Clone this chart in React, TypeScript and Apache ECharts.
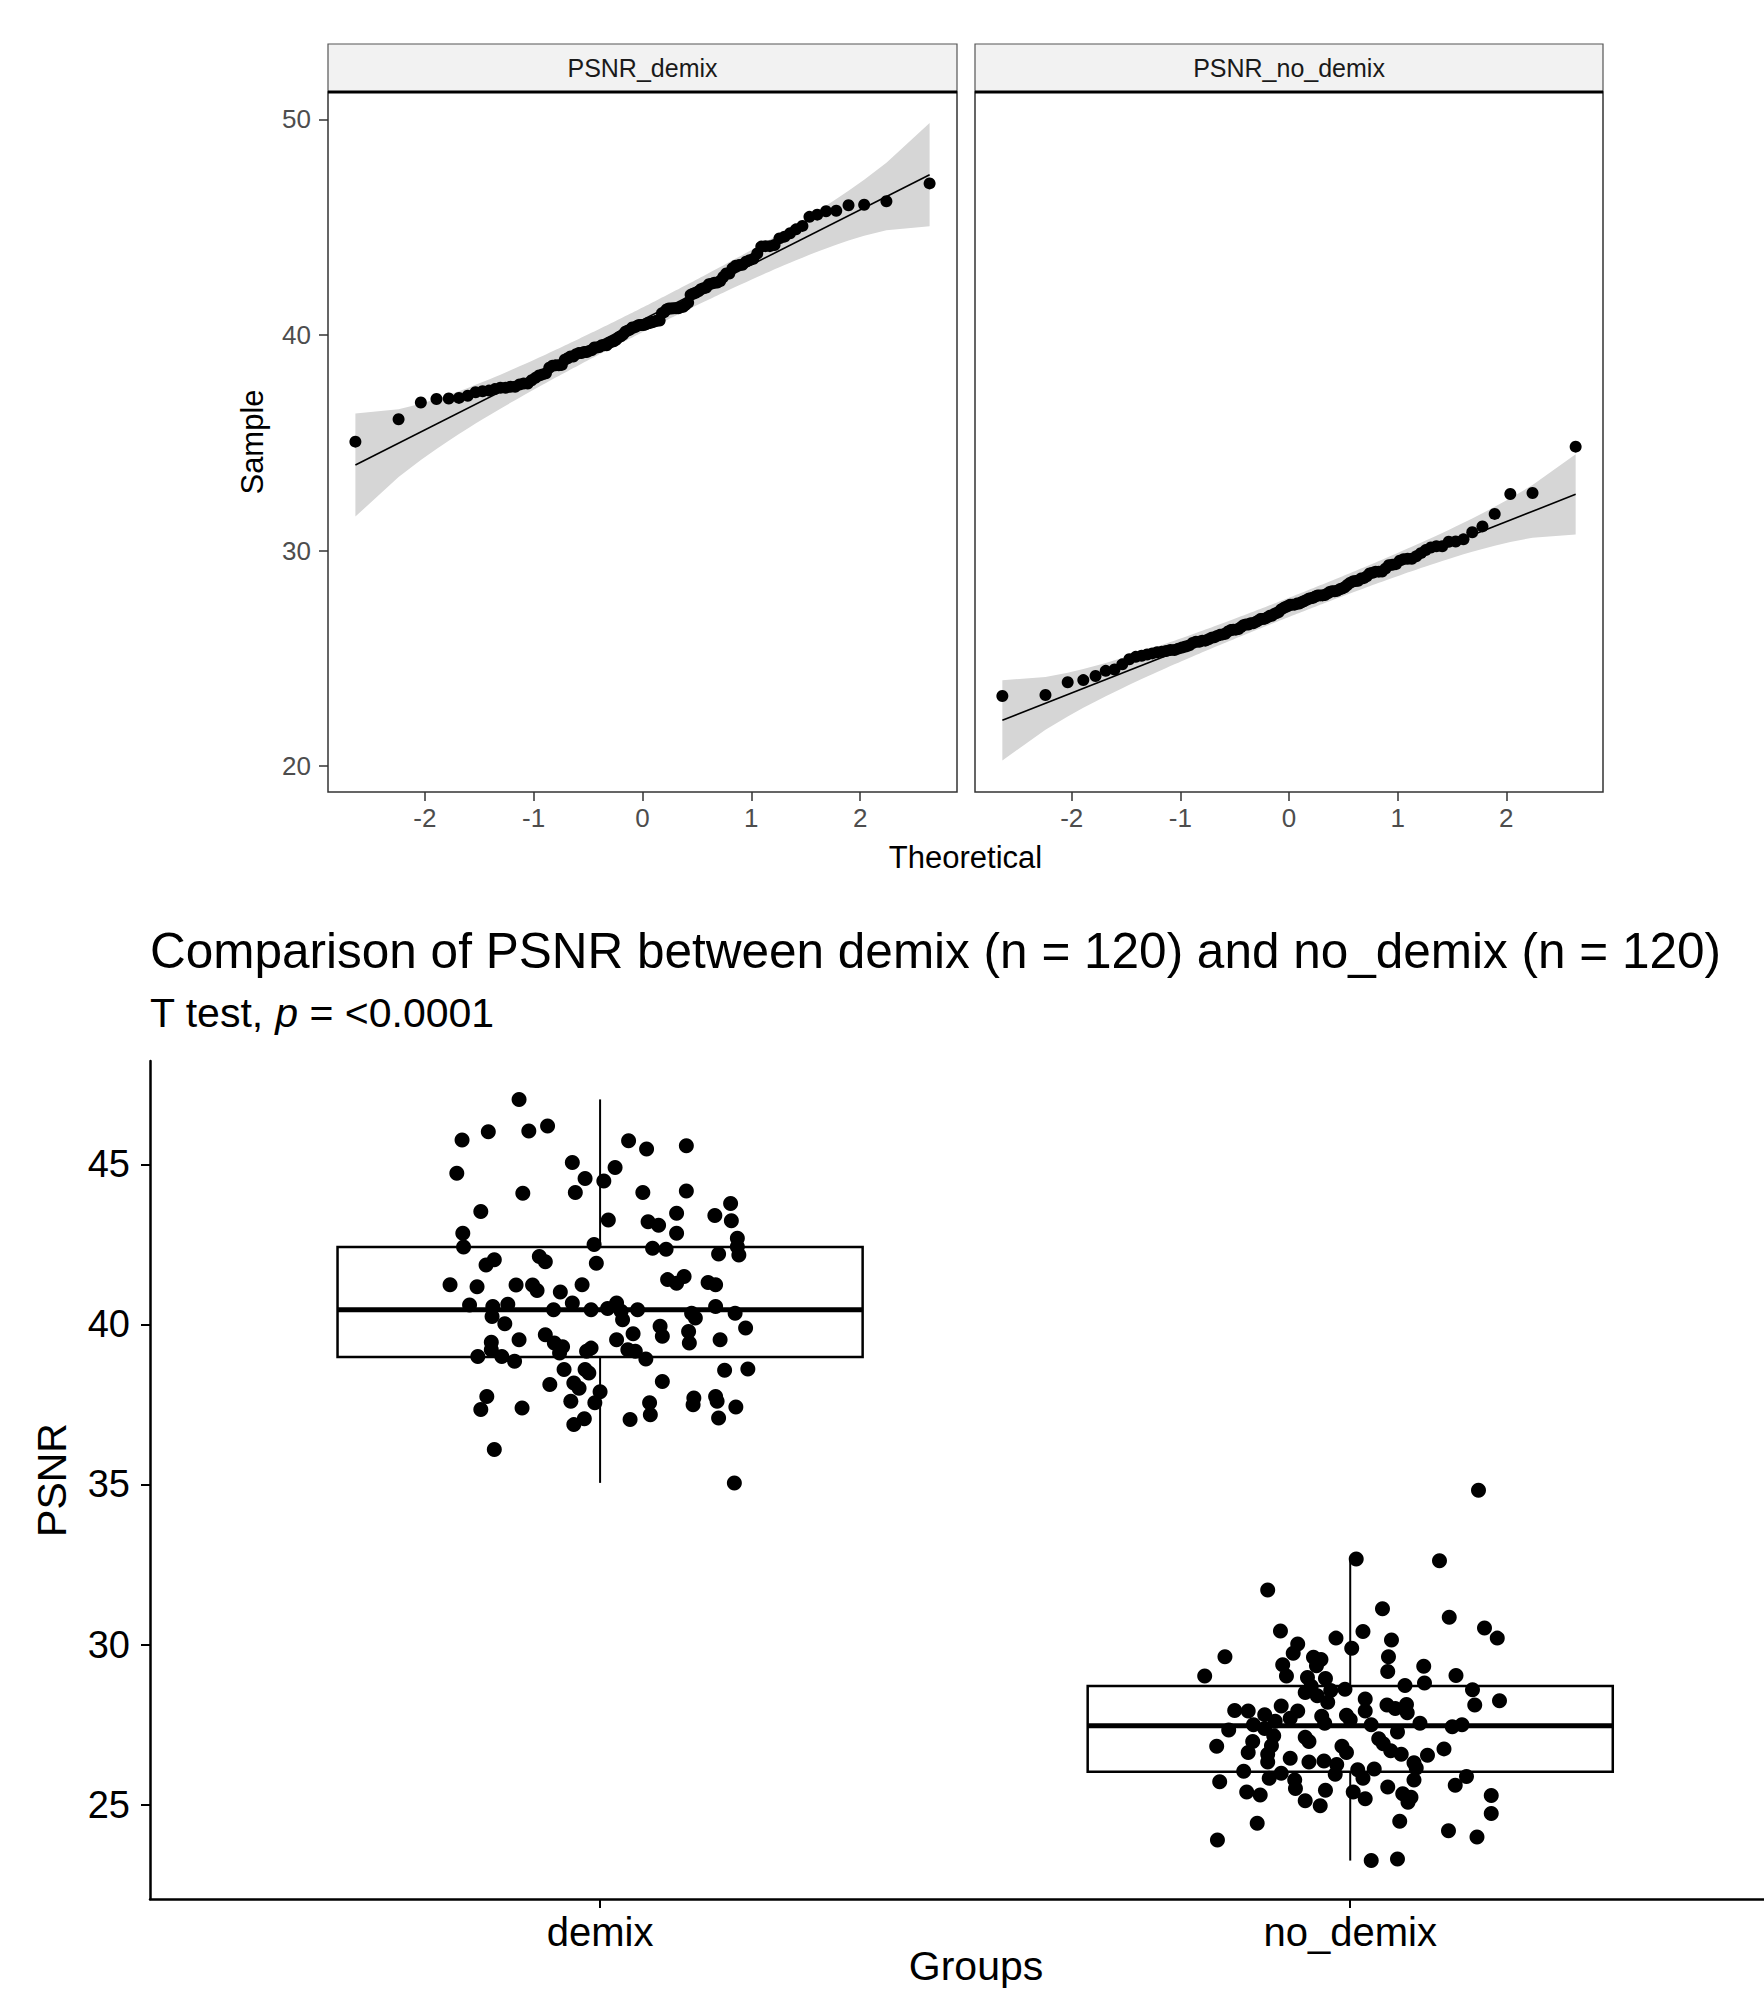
import React, { useEffect, useRef } from 'react';
import * as echarts from 'echarts';

// ---------------- data ----------------
const GROUPS = ['demix', 'no_demix'];
const PANEL_LABELS = ['PSNR_demix', 'PSNR_no_demix'];
const QQ_X_TICKS = [-2, -1, 0, 1, 2];
const QQ_Y_TICKS = [20, 30, 40, 50];
const BOX_Y_TICKS = [25, 30, 35, 40, 45];
const BOX_X_TICKS = [1, 2];

const DEMIX_PSNR = [47.03, 45.76, 46.02, 46.04, 46.2, 45.74, 45.48, 45.58, 44.72, 45.06, 44.56, 44.48, 44.12, 44.1, 44.12, 44.17, 43.53, 43.26, 43.21, 43.1, 43.47, 43.4, 43.78, 43.24, 42.85, 42.42, 42.85, 42.69, 42.5, 42.38, 42.35, 42.43, 42.2, 42.17, 42.02, 41.86, 42.12, 41.96, 41.91, 41.5, 41.29, 41.24, 41.18, 41.23, 41.23, 41.06, 41.24, 41.01, 41.31, 41.24, 40.61, 40.56, 40.63, 40.46, 40.67, 40.46, 40.67, 40.41, 40.46, 40.35, 40.56, 40.35, 40.25, 40.02, 40.15, 40.2, 39.89, 39.94, 39.71, 39.63, 39.78, 39.68, 39.52, 39.44, 39.52, 39.42, 39.52, 39.42, 39.21, 39.26, 39.16, 39.0, 39.0, 38.85, 39.11, 39.21, 39.16, 38.92, 38.59, 38.59, 38.48, 38.57, 38.61, 38.12, 38.17, 38.01, 38.22, 37.75, 37.34, 37.39, 37.6, 37.55, 37.55, 37.18, 37.7, 37.49, 37.75, 37.6, 37.42, 37.08, 36.87, 37.05, 37.03, 36.09, 35.05, 40.5, 39.3, 41.4, 37.9, 44.9];
const DEMIX_JITTER = [-0.108, -0.184, -0.149, -0.095, -0.07, 0.038, 0.062, 0.115, -0.191, -0.037, -0.02, 0.005, -0.033, -0.103, 0.057, 0.115, -0.159, 0.011, 0.064, 0.078, 0.102, 0.153, 0.174, 0.175, -0.183, -0.182, 0.102, 0.183, -0.008, 0.07, 0.088, 0.183, 0.158, 0.185, -0.141, -0.152, -0.081, -0.073, -0.005, 0.112, 0.102, -0.2, -0.164, -0.112, -0.09, -0.084, -0.024, -0.053, 0.144, 0.154, -0.174, -0.143, -0.123, -0.062, -0.037, -0.012, 0.022, 0.028, 0.05, 0.122, 0.154, 0.18, -0.144, -0.127, 0.03, 0.127, 0.194, 0.08, 0.044, 0.083, 0.118, -0.073, -0.108, -0.145, 0.022, 0.119, 0.16, -0.061, -0.145, -0.012, -0.018, -0.163, -0.131, -0.114, -0.054, 0.037, 0.047, 0.061, -0.048, -0.02, -0.015, 0.166, 0.197, -0.067, -0.035, -0.028, 0.083, -0.151, -0.159, -0.104, -0.039, -0.007, 0.066, 0.067, 0.125, 0.124, 0.154, 0.156, 0.181, 0.158, -0.035, -0.021, 0.04, -0.141, 0.179, 0.01, -0.05, 0.09, 0.0, 0.02];

const NO_DEMIX_PSNR = [34.82, 32.67, 32.62, 31.7, 31.12, 30.85, 30.52, 30.2, 30.42, 30.02, 30.2, 30.41, 30.14, 29.88, 29.62, 29.73, 29.6, 29.53, 29.62, 29.37, 29.34, 29.32, 29.16, 29.02, 29.02, 28.97, 28.94, 29.03, 28.72, 28.8, 28.7, 28.56, 28.6, 28.4, 28.59, 28.11, 28.24, 28.11, 28.13, 27.94, 27.92, 27.81, 28.08, 27.92, 27.76, 27.79, 27.92, 27.87, 27.54, 27.33, 27.49, 27.38, 27.15, 27.54, 27.49, 27.27, 27.43, 27.49, 26.82, 26.97, 26.84, 26.97, 26.82, 27.06, 26.9, 26.74, 26.63, 26.57, 26.63, 26.68, 26.57, 26.54, 26.33, 26.33, 26.36, 26.25, 26.31, 26.04, 25.98, 25.82, 26.09, 26.11, 26.14, 25.82, 25.71, 25.77, 25.77, 25.88, 25.6, 25.39, 25.5, 25.45, 25.39, 25.34, 25.23, 25.28, 25.07, 24.96, 24.72, 24.42, 24.48, 24.18, 23.99, 23.89, 23.3, 23.25, 25.12, 25.18, 25.3, 25.55, 25.95, 26.45, 27.1, 27.6, 27.65, 27.7, 28.0, 28.2, 28.3, 28.5];
const NO_DEMIX_JITTER = [0.171, 0.008, 0.119, -0.11, 0.043, 0.132, 0.179, 0.196, -0.093, -0.07, -0.019, 0.017, 0.055, 0.002, -0.167, -0.076, -0.049, -0.039, 0.051, -0.09, -0.045, 0.098, 0.05, -0.194, -0.085, -0.057, -0.033, 0.141, 0.073, 0.099, -0.052, -0.026, -0.007, -0.044, 0.163, 0.166, 0.199, 0.049, 0.075, -0.154, -0.136, -0.114, -0.092, -0.07, -0.038, -0.005, 0.02, 0.076, 0.093, -0.162, -0.129, -0.114, -0.102, -0.034, 0.028, 0.063, 0.136, 0.149, -0.178, -0.13, -0.105, -0.055, -0.011, 0.038, 0.044, 0.125, -0.136, -0.11, -0.005, 0.054, 0.068, 0.103, -0.11, -0.055, -0.035, -0.018, 0.085, -0.142, -0.092, -0.108, 0.01, 0.032, 0.088, 0.017, -0.174, -0.074, 0.085, 0.155, 0.14, -0.138, -0.073, -0.033, 0.004, 0.07, 0.081, 0.188, 0.077, -0.04, 0.188, -0.124, 0.066, 0.131, 0.169, -0.177, 0.063, 0.028, -0.06, 0.02, -0.12, 0.05, -0.02, -0.08, -0.06, -0.1, 0.0, -0.08, 0.06, -0.03, 0.02, -0.06];

const TITLE = 'Comparison of PSNR between demix (n = 120) and no_demix (n = 120)';
const SUBTITLE = 'T test, {i|p} = <0.0001';

// ---------------- statistics (the chart's own stat transforms) ----------------
function qnorm(p: number): number {
  const a = [-3.969683028665376e1, 2.209460984245205e2, -2.759285104469687e2, 1.38357751867269e2, -3.066479806614716e1, 2.506628277459239];
  const b = [-5.447609879822406e1, 1.615858368580409e2, -1.556989798598866e2, 6.680131188771972e1, -1.328068155288572e1];
  const c = [-7.784894002430293e-3, -3.223964580411365e-1, -2.400758277161838, -2.549732539343734, 4.374664141464968, 2.938163982698783];
  const d = [7.784695709041462e-3, 3.224671290700398e-1, 2.445134137142996, 3.754408661907416];
  const pl = 0.02425;
  if (p < pl) {
    const q = Math.sqrt(-2 * Math.log(p));
    return (((((c[0] * q + c[1]) * q + c[2]) * q + c[3]) * q + c[4]) * q + c[5]) / ((((d[0] * q + d[1]) * q + d[2]) * q + d[3]) * q + 1);
  }
  if (p <= 1 - pl) {
    const q = p - 0.5;
    const r = q * q;
    return ((((((a[0] * r + a[1]) * r + a[2]) * r + a[3]) * r + a[4]) * r + a[5]) * q) / (((((b[0] * r + b[1]) * r + b[2]) * r + b[3]) * r + b[4]) * r + 1);
  }
  const q = Math.sqrt(-2 * Math.log(1 - p));
  return -(((((c[0] * q + c[1]) * q + c[2]) * q + c[3]) * q + c[4]) * q + c[5]) / ((((d[0] * q + d[1]) * q + d[2]) * q + d[3]) * q + 1);
}
const dnorm = (z: number) => Math.exp(-0.5 * z * z) / Math.sqrt(2 * Math.PI);

function quantile(sorted: number[], p: number): number {
  const h = (sorted.length - 1) * p;
  const lo = Math.floor(h);
  const hi = Math.ceil(h);
  return sorted[lo] + (h - lo) * (sorted[hi] - sorted[lo]);
}

function qqStats(values: number[]) {
  const s = [...values].sort((x, y) => x - y);
  const n = s.length;
  const q1 = quantile(s, 0.25);
  const q3 = quantile(s, 0.75);
  const slope = (q3 - q1) / (qnorm(0.75) - qnorm(0.25));
  const int = q1 - slope * qnorm(0.25);
  const zz = qnorm(0.975);
  const pts: number[][] = [];
  const band: number[][] = [];
  for (let i = 0; i < n; i++) {
    const P = (i + 1 - 0.5) / n;
    const z = qnorm(P);
    pts.push([z, s[i]]);
    const se = (slope / dnorm(z)) * Math.sqrt((P * (1 - P)) / n);
    const fit = int + slope * z;
    band.push([z, fit - zz * se, fit + zz * se]);
  }
  const z0 = pts[0][0];
  const z1 = pts[n - 1][0];
  return { pts, band, line: [[z0, int + slope * z0], [z1, int + slope * z1]] };
}

function boxStats(values: number[], x: number) {
  const s = [...values].sort((a, b) => a - b);
  const q1 = quantile(s, 0.25);
  const med = quantile(s, 0.5);
  const q3 = quantile(s, 0.75);
  const iqr = q3 - q1;
  const lo = s.find((v) => v >= q1 - 1.5 * iqr) as number;
  const hi = [...s].reverse().find((v) => v <= q3 + 1.5 * iqr) as number;
  return [x, q1, med, q3, lo, hi];
}

const FONT = "'Liberation Sans', Arial, Helvetica, sans-serif";

function bandSeries(band: number[][], idx: number) {
  return {
    type: 'custom',
    xAxisIndex: idx,
    yAxisIndex: idx,
    silent: true,
    data: [[0, 30]],
    renderItem: (_p: any, api: any) => {
      const up = band.map((b) => api.coord([b[0], b[2]]));
      const low = band.map((b) => api.coord([b[0], b[1]])).reverse();
      return { type: 'polygon', shape: { points: up.concat(low) }, style: { fill: '#D6D6D6' } };
    },
  };
}

export default function App() {
  const ref = useRef<HTMLDivElement>(null);
  useEffect(() => {
    if (!ref.current) return;
    const chart = echarts.init(ref.current, undefined, { renderer: 'svg' });
    const qqA = qqStats(DEMIX_PSNR);
    const qqB = qqStats(NO_DEMIX_PSNR);
    const boxes = [boxStats(DEMIX_PSNR, 1), boxStats(NO_DEMIX_PSNR, 2)];
    const jitterA = DEMIX_PSNR.map((v, i) => [1 + DEMIX_JITTER[i], v]);
    const jitterB = NO_DEMIX_PSNR.map((v, i) => [2 + NO_DEMIX_JITTER[i], v]);

    const qqX = (gi: number) => ({
      type: 'value', gridIndex: gi, min: -2.89, max: 2.89,
      axisLine: { show: false, onZero: false },
      axisTick: { show: true, customValues: QQ_X_TICKS, length: 9, lineStyle: { color: '#333', width: 1.5 } },
      axisLabel: { customValues: QQ_X_TICKS, fontSize: 26, color: '#4d4d4d', fontFamily: FONT, margin: 13 },
      splitLine: { show: false },
    });
    const qqY = (gi: number, showLab: boolean) => ({
      type: 'value', gridIndex: gi, min: 18.8, max: 51.27,
      axisLine: { show: false, onZero: false },
      axisTick: { show: showLab, customValues: QQ_Y_TICKS, length: 9, lineStyle: { color: '#333', width: 1.5 } },
      axisLabel: { show: showLab, customValues: QQ_Y_TICKS, fontSize: 26, color: '#4d4d4d', fontFamily: FONT, margin: 17 },
      splitLine: { show: false },
    });

    const dot = { color: '#000', opacity: 1 };

    const option: any = {
      animation: false,
      backgroundColor: '#ffffff',
      grid: [
        { left: 328, top: 92, width: 629, height: 700, show: true, borderColor: '#333', borderWidth: 1.5, backgroundColor: 'transparent' },
        { left: 975, top: 92, width: 628, height: 700, show: true, borderColor: '#333', borderWidth: 1.5, backgroundColor: 'transparent' },
        { left: 150, top: 1061, width: 1614, height: 838, show: false },
      ],
      xAxis: [
        qqX(0),
        qqX(1),
        {
          type: 'value', gridIndex: 2, min: 0.4, max: 2.5516,
          axisLine: { show: true, onZero: false, lineStyle: { color: '#000', width: 2.5 } },
          axisTick: { show: true, customValues: BOX_X_TICKS, length: 9, lineStyle: { color: '#000', width: 2 } },
          axisLabel: {
            customValues: BOX_X_TICKS, fontSize: 40, color: '#000', fontFamily: FONT, margin: 13,
            formatter: (v: number) => GROUPS[Math.round(v) - 1] || '',
          },
          splitLine: { show: false },
        },
      ],
      yAxis: [
        qqY(0, true),
        qqY(1, false),
        {
          type: 'value', gridIndex: 2, min: 22.05, max: 48.23,
          axisLine: { show: true, onZero: false, lineStyle: { color: '#000', width: 2.5 } },
          axisTick: { show: true, customValues: BOX_Y_TICKS, length: 9, lineStyle: { color: '#000', width: 2 } },
          axisLabel: { customValues: BOX_Y_TICKS, fontSize: 38, color: '#000', fontFamily: FONT, margin: 20 },
          splitLine: { show: false },
        },
      ],
      series: [
        bandSeries(qqA.band, 0),
        bandSeries(qqB.band, 1),
        { type: 'line', xAxisIndex: 0, yAxisIndex: 0, data: qqA.line, symbol: 'none', silent: true, lineStyle: { color: '#000', width: 1.6 } },
        { type: 'line', xAxisIndex: 1, yAxisIndex: 1, data: qqB.line, symbol: 'none', silent: true, lineStyle: { color: '#000', width: 1.6 } },
        { type: 'scatter', xAxisIndex: 0, yAxisIndex: 0, data: qqA.pts, symbolSize: 12, itemStyle: dot },
        { type: 'scatter', xAxisIndex: 1, yAxisIndex: 1, data: qqB.pts, symbolSize: 12, itemStyle: dot },
        {
          type: 'custom', xAxisIndex: 2, yAxisIndex: 2, data: boxes, silent: true,
          renderItem: (_p: any, api: any) => {
            const x = api.value(0);
            const q1 = api.value(1), med = api.value(2), q3 = api.value(3), lo = api.value(4), hi = api.value(5);
            const tl = api.coord([x - 0.35, q3]);
            const br = api.coord([x + 0.35, q1]);
            const m = api.coord([x, med]);
            const yl = api.coord([x, lo])[1];
            const yh = api.coord([x, hi])[1];
            const st = { stroke: '#000', lineWidth: 2 };
            return {
              type: 'group',
              children: [
                { type: 'line', shape: { x1: m[0], y1: yh, x2: m[0], y2: tl[1] }, style: st },
                { type: 'line', shape: { x1: m[0], y1: br[1], x2: m[0], y2: yl }, style: st },
                { type: 'rect', shape: { x: tl[0], y: tl[1], width: br[0] - tl[0], height: br[1] - tl[1] }, style: { fill: '#fff', stroke: '#000', lineWidth: 2.5 } },
                { type: 'line', shape: { x1: tl[0], y1: m[1], x2: br[0], y2: m[1] }, style: { stroke: '#000', lineWidth: 5 } },
              ],
            };
          },
        },
        { type: 'scatter', xAxisIndex: 2, yAxisIndex: 2, data: jitterA, symbolSize: 15, itemStyle: dot },
        { type: 'scatter', xAxisIndex: 2, yAxisIndex: 2, data: jitterB, symbolSize: 15, itemStyle: dot },
      ],
      graphic: [
        { type: 'rect', z: 10, shape: { x: 328, y: 44, width: 629, height: 48 }, style: { fill: '#F2F2F2', stroke: '#555', lineWidth: 1.2 } },
        { type: 'rect', z: 10, shape: { x: 975, y: 44, width: 628, height: 48 }, style: { fill: '#F2F2F2', stroke: '#555', lineWidth: 1.2 } },
        { type: 'line', z: 11, shape: { x1: 328, y1: 92, x2: 957, y2: 92 }, style: { stroke: '#000', lineWidth: 3 } },
        { type: 'line', z: 11, shape: { x1: 975, y1: 92, x2: 1603, y2: 92 }, style: { stroke: '#000', lineWidth: 3 } },
        { type: 'text', z: 12, x: 642.5, y: 68, style: { text: PANEL_LABELS[0], fontSize: 25, fontFamily: FONT, fill: '#1a1a1a', align: 'center', verticalAlign: 'middle' } },
        { type: 'text', z: 12, x: 1289, y: 68, style: { text: PANEL_LABELS[1], fontSize: 25, fontFamily: FONT, fill: '#1a1a1a', align: 'center', verticalAlign: 'middle' } },
        { type: 'text', z: 12, x: 252, y: 442, rotation: Math.PI / 2, style: { text: 'Sample', fontSize: 31, fontFamily: FONT, fill: '#000', align: 'center', verticalAlign: 'middle' } },
        { type: 'text', z: 12, x: 965.5, y: 857, style: { text: 'Theoretical', fontSize: 31, fontFamily: FONT, fill: '#000', align: 'center', verticalAlign: 'middle' } },
        { type: 'text', z: 12, x: 150, y: 950, style: { text: TITLE, fontSize: 49.5, fontFamily: FONT, fill: '#000', align: 'left', verticalAlign: 'middle' } },
        {
          type: 'text', z: 12, x: 150, y: 1013,
          style: {
            text: SUBTITLE, fontSize: 41, fontFamily: FONT, fill: '#000', align: 'left', verticalAlign: 'middle',
            rich: { i: { fontSize: 41, fontFamily: FONT, fontStyle: 'italic', fill: '#000' } },
          },
        },
        { type: 'text', z: 12, x: 52, y: 1480, rotation: Math.PI / 2, style: { text: 'PSNR', fontSize: 41, fontFamily: FONT, fill: '#000', align: 'center', verticalAlign: 'middle' } },
        { type: 'text', z: 12, x: 976, y: 1966, style: { text: 'Groups', fontSize: 41, fontFamily: FONT, fill: '#000', align: 'center', verticalAlign: 'middle' } },
      ],
    };
    chart.setOption(option);
    return () => chart.dispose();
  }, []);
  return <div ref={ref} style={{ position: 'absolute', left: 0, top: 0, width: 1764, height: 1992 }} />;
}
